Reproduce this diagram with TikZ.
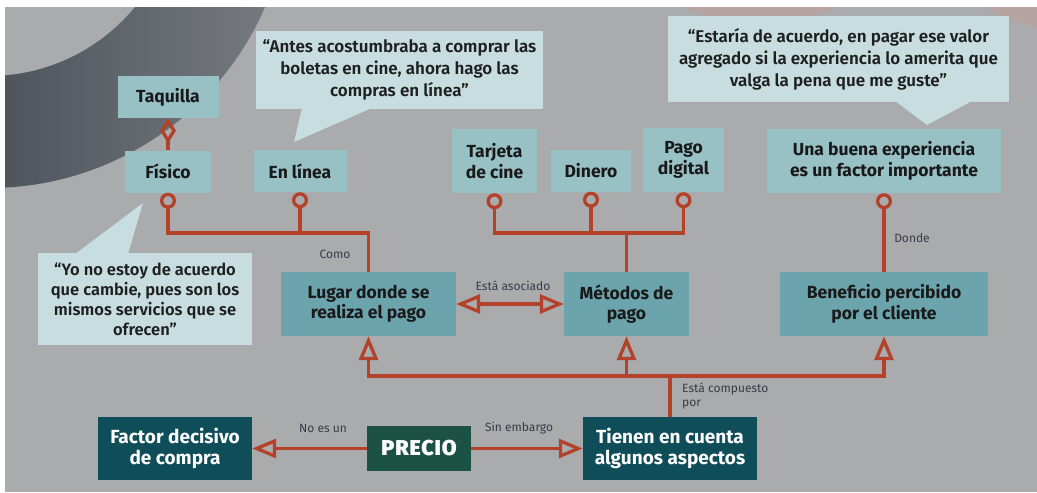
\documentclass[tikz,border=0pt]{standalone}
\usepackage{fontspec}
\setmainfont{Fira Sans}
\newfontfamily\quotefont{Fira Sans SemiBold}
\newfontfamily\heavyfont{Fira Sans Black}[LetterSpace=4]
\usetikzlibrary{arrows.meta}

\definecolor{bggray}{RGB}{169,171,172}
\definecolor{ringdark}{RGB}{80,85,93}
\definecolor{ringlight}{RGB}{122,126,131}
\definecolor{pinkish}{RGB}{182,164,163}
\definecolor{callfill}{RGB}{199,221,224}
\definecolor{lightbox}{RGB}{152,193,198}
\definecolor{midbox}{RGB}{108,164,173}
\definecolor{darkbox}{RGB}{15,77,89}
\definecolor{greenbox}{RGB}{27,82,67}
\definecolor{linkred}{RGB}{180,66,43}
\definecolor{labelgray}{RGB}{55,60,70}

\tikzset{
  leaf/.style={fill=lightbox, align=center, inner sep=0pt, minimum height=42pt,
    font=\fontsize{17.5}{20.5}\selectfont\bfseries, text=black!90},
  aspect/.style={leaf, fill=midbox, minimum height=64pt},
  core/.style={fill=darkbox, align=center, inner sep=0pt, minimum height=63pt,
    font=\fontsize{19}{21.5}\selectfont\bfseries, text=white},
  callout/.style={fill=callfill, align=center, inner sep=0pt,
    font=\quotefont\fontsize{17}{22}\selectfont, text=black!88},
  lbl/.style={inner sep=0pt, font=\fontsize{12}{14}\selectfont, text=labelgray},
  link/.style={draw=linkred, line width=3.3pt},
  circ/.style={link, {Circle[open, length=16pt, width=16pt]}-},
  tri/.style={link, -{Triangle[open, length=24pt, width=19pt]}},
  bitri/.style={link, {Triangle[open, length=24pt, width=19pt]}-{Triangle[open, length=24pt, width=19pt]}},
  dia/.style={link, -{Diamond[open, length=25pt, width=16pt]}}
}

\begin{document}
\begin{tikzpicture}[x=1pt, y=-1pt]
  %%Canvas
  \useasboundingbox (0,0) rectangle (1037,493);
  \fill[white] (0,0) rectangle (1037,493);
  \fill[bggray] (5,7) rectangle (1037,492);
  \begin{scope}
    \clip (5,7) rectangle (1037,492);
    \fill[pinkish] (760,-168) circle (191pt);
    \fill[pinkish] (1080,-162) circle (194pt);
    \begin{scope}[even odd rule]
      \clip (-11,-113) circle (301pt) (-11,-113) circle (189pt);
      \shade[left color=ringdark, right color=ringlight] (5,7) rectangle (300,200);
    \end{scope}
  \end{scope}

  %%Quotes
  \node[callout, minimum width=287pt, minimum height=78pt] (antes) at (399.5,70)
    {“Antes acostumbraba a comprar las\\boletas en cine, ahora hago las\\compras en línea”};
  \fill[callfill] (302,108) -- (372,108) -- (294,142) -- cycle;
  \node[callout, minimum width=341pt, minimum height=86pt] (estaria) at (838.5,59)
    {“Estaría de acuerdo, en pagar ese valor\\agregado si la experiencia lo amerita que\\valga la pena que me guste”};
  \fill[callfill] (895,101) -- (972,101) -- (927,125) -- cycle;
  \node[callout, minimum width=214pt, minimum height=92pt, font=\quotefont\fontsize{16.5}{20}\selectfont] (yono) at (145,299)
    {“Yo no estoy de acuerdo\\que cambie, pues son los\\mismos servicios que se\\ofrecen”};
  \fill[callfill] (75,254) -- (128,254) -- (143,203) -- cycle;

  %%Leaves
  \node[leaf, minimum width=101pt] (taquilla) at (168,97) {Taquilla};
  \node[leaf, minimum width=86pt] (fisico) at (168,171.5) {Físico};
  \node[leaf, minimum width=93pt] (enlinea) at (300,171) {En línea};
  \node[leaf, minimum width=85pt, minimum height=64pt] (tarjeta) at (494.5,161) {Tarjeta\\de cine};
  \node[leaf, minimum width=80pt] (dinero) at (591,170.5) {Dinero};
  \node[leaf, minimum width=81pt, minimum height=64pt] (digital) at (683.5,160) {Pago\\digital};
  \node[leaf, minimum width=234pt, minimum height=64pt] (experiencia) at (884,161)
    {Una buena experiencia\\es un factor importante};

  %%Aspects
  \node[aspect, minimum width=175pt] (lugar) at (368.5,304) {Lugar donde se\\realiza el pago};
  \node[aspect, minimum width=125pt] (metodos) at (626.5,304) {Métodos de\\pago};
  \node[aspect, minimum width=208pt] (beneficio) at (884,304) {Beneficio percibido\\por el cliente};

  %%Bottom row
  \node[core, minimum width=154pt] (factor) at (175,448.5) {Factor decisivo\\de compra};
  \node[core, fill=greenbox, minimum width=104pt, minimum height=45pt,
    font=\heavyfont\fontsize{21.5}{23}\selectfont] (precio) at (419,448.5) {PRECIO};
  \node[core, minimum width=174pt] (tienen) at (670,448.5) {Tienen en cuenta\\algunos aspectos};

  %%Links
  \draw[dia] (fisico.north) -- (taquilla.south);
  \draw[circ] (fisico.south) |- (lugar.north |- 0,233) -- (lugar.north);
  \draw[circ] (enlinea.south) -- (enlinea.south |- 0,233);
  \draw[circ] (tarjeta.south) |- (metodos.north |- 0,233) -- (metodos.north);
  \draw[circ] (digital.south) |- (metodos.north |- 0,233);
  \draw[circ] (dinero.south) -- (dinero.south |- 0,233);
  \draw[circ] (experiencia.south) -- (beneficio.north);
  \draw[bitri] (lugar.east) -- (metodos.west);
  \coordinate (split) at (tienen.north |- 0,376);
  \draw[link] (tienen.north) -- (split);
  \draw[tri] (split) -| (lugar.south);
  \draw[tri] (split) -| (metodos.south);
  \draw[tri] (split) -| (beneficio.south);
  \draw[tri] (precio.west) -- (factor.east);
  \draw[tri] (precio.east) -- (tienen.west);

  %%Labels
  \node[lbl] (como) at (335,254) {Como};
  \node[lbl] (asociado) at (513,286) {Está asociado};
  \node[lbl] (donde) at (912,238) {Donde};
  \node[lbl, align=left, anchor=north west] (compuesto) at (682,383) {Está compuesto\\por};
  \node[lbl] (noes) at (323,428) {No es un};
  \node[lbl] (sinembargo) at (519,428) {Sin embargo};
\end{tikzpicture}
\end{document}
